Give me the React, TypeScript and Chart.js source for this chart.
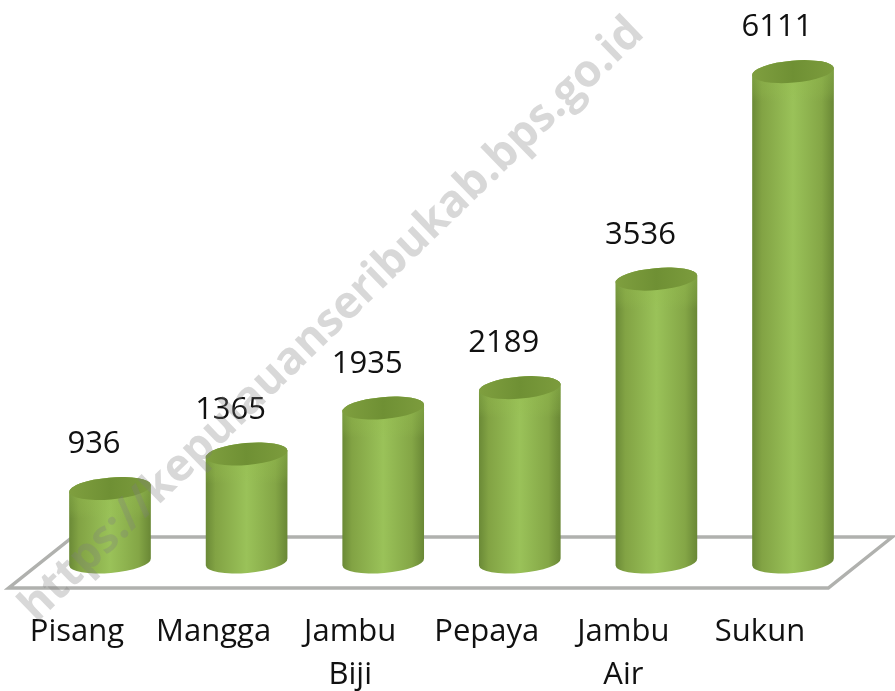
import React, { useEffect, useRef } from "react";
import { Chart, registerables } from "chart.js";

Chart.register(...registerables);

const categories: (string | string[])[] = ["Pisang", "Mangga", ["Jambu", "Biji"], "Pepaya", ["Jambu", "Air"], "Sukun"];
const values: number[] = [936, 1365, 1935, 2189, 3536, 6111];
const watermark = "https://kepulauanseribukab.bps.go.id";

const FONT = '"Open Sans", sans-serif';
const TILT = (-5 * Math.PI) / 180;
const RY = 11;

const floorPlugin = {
  id: "floor",
  beforeDatasetsDraw(chart: any) {
    const { ctx, chartArea: a } = chart;
    const back = a.bottom - 27;
    const front = a.bottom + 24;
    ctx.save();
    ctx.strokeStyle = "#b0b1ae";
    ctx.lineWidth = 3.5;
    ctx.lineJoin = "miter";
    ctx.beginPath();
    ctx.moveTo(a.left - 33, front);
    ctx.lineTo(a.right - 33, front);
    ctx.lineTo(a.right + 31, back);
    ctx.lineTo(a.left + 31, back);
    ctx.closePath();
    ctx.stroke();
    ctx.restore();
  },
};

const cylinderPlugin = {
  id: "cylinder",
  beforeDatasetDraw(chart: any, args: any) {
    const { ctx } = chart;
    for (const el of args.meta.data) {
      const rx = el.width / 2;
      const yTop = el.y;
      const yBot = el.base - 2;
      ctx.save();
      ctx.beginPath();
      ctx.ellipse(el.x, yBot, rx, RY, TILT, Math.PI, 0, true);
      ctx.ellipse(el.x, yTop, rx, RY, TILT, 0, Math.PI, true);
      ctx.closePath();
      ctx.fillStyle = el.options.backgroundColor;
      ctx.fill();
      ctx.clip();
      const band = ctx.createLinearGradient(0, yTop, 0, yTop + 30);
      band.addColorStop(0, "rgba(150,190,80,0.4)");
      band.addColorStop(0.7, "rgba(150,190,80,0.2)");
      band.addColorStop(1, "rgba(150,190,80,0)");
      ctx.fillStyle = band;
      ctx.fillRect(el.x - rx - 2, yTop - RY, el.width + 4, 50);
      ctx.restore();

      ctx.save();
      ctx.beginPath();
      ctx.ellipse(el.x, yTop, rx, RY, TILT, 0, Math.PI * 2);
      const cap = ctx.createLinearGradient(el.x - rx, 0, el.x + rx, 0);
      cap.addColorStop(0, "#7f9f3f");
      cap.addColorStop(0.5, "#6f9034");
      cap.addColorStop(1, "#7c9c3d");
      ctx.fillStyle = cap;
      ctx.fill();
      ctx.restore();
    }
    return false;
  },
};

const labelPlugin = {
  id: "valueLabels",
  afterDatasetsDraw(chart: any) {
    const { ctx } = chart;
    const meta = chart.getDatasetMeta(0);
    ctx.save();
    ctx.font = `31px ${FONT}`;
    ctx.fillStyle = "#111111";
    ctx.textAlign = "center";
    ctx.textBaseline = "middle";
    meta.data.forEach((el: any, i: number) => {
      ctx.fillText(String(values[i]), el.x - 16, el.y - 44);
    });
    ctx.restore();
  },
};

const watermarkPlugin = {
  id: "watermark",
  afterDraw(chart: any) {
    const { ctx } = chart;
    ctx.save();
    ctx.translate(332, 320);
    ctx.rotate((-44 * Math.PI) / 180);
    ctx.font = `700 45px ${FONT}`;
    ctx.fillStyle = "rgba(125,125,125,0.3)";
    ctx.textAlign = "center";
    ctx.textBaseline = "middle";
    ctx.fillText(watermark, 0, 0);
    ctx.restore();
  },
};

export default function App() {
  const ref = useRef<HTMLCanvasElement>(null);
  useEffect(() => {
    const chart = new Chart(ref.current as HTMLCanvasElement, {
      type: "bar",
      data: {
        labels: categories,
        datasets: [
          {
            data: values,
            categoryPercentage: 1,
            barPercentage: 0.6,
            backgroundColor: (c: any) => {
              const ch = c.chart;
              if (!ch.chartArea) return "#8fb64f";
              const cx = ch.scales.x.getPixelForValue(c.dataIndex);
              const g = ch.ctx.createLinearGradient(cx - 41, 0, cx + 41, 0);
              g.addColorStop(0, "#6a8936");
              g.addColorStop(0.12, "#82a344");
              g.addColorStop(0.5, "#9ac259");
              g.addColorStop(0.85, "#84a646");
              g.addColorStop(1, "#698735");
              return g;
            },
          },
        ],
      },
      options: {
        animation: false,
        responsive: false,
        layout: { padding: { left: 41.7, right: 33.7, top: 0, bottom: 0 } },
        plugins: { legend: { display: false }, tooltip: { enabled: false } },
        scales: {
          x: {
            grid: { display: false },
            border: { display: false },
            afterFit: (s: any) => {
              s.height = 127;
            },
            ticks: {
              autoSkip: false,
              maxRotation: 0,
              padding: 39,
              labelOffset: -33,
              color: "#111111",
              font: { family: FONT, size: 31, lineHeight: 1.39 },
            },
          },
          y: { display: false, min: 0, max: 7000 },
        },
      },
      plugins: [floorPlugin, cylinderPlugin, labelPlugin, watermarkPlugin],
    } as any);
    return () => chart.destroy();
  }, []);
  return (
    <canvas
      ref={ref}
      width={895}
      height={691}
      style={{ position: "absolute", left: 0, top: 0, width: 895, height: 691, filter: "blur(0.7px)" }}
    />
  );
}
